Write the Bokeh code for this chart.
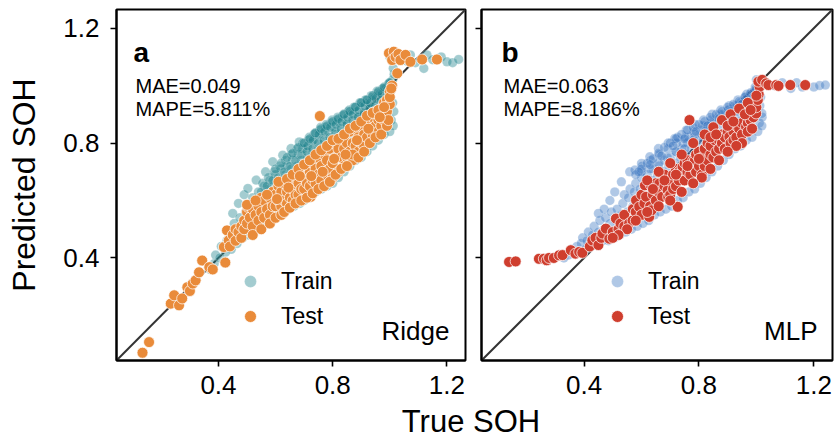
from bokeh.plotting import figure
from bokeh.layouts import row, column
from bokeh.models import FixedTicker, Slope, Label, Legend, LegendItem, Range1d
from bokeh.core.properties import value
from bokeh.embed import file_html
from bokeh.resources import INLINE

FONT = "Liberation Sans"

ticks = [0.4, 0.8, 1.2]
tick_labels = ["0.4", "0.8", "1.2"]
axis_lo, axis_hi = 0.043, 1.265
x_title = "True SOH"
y_title = "Predicted SOH"

ridge_train = [
(0.37,0.36),(0.385,0.38),(0.39,0.41),(0.405,0.40),(0.41,0.44),(0.425,0.42),(0.43,0.46),(0.435,0.49),
(0.445,0.43),(0.45,0.48),(0.455,0.52),(0.45,0.555),
(0.465,0.45),(0.47,0.50),(0.475,0.54),(0.47,0.59),
(0.485,0.47),(0.49,0.52),(0.495,0.56),(0.49,0.62),
(0.505,0.48),(0.51,0.54),(0.515,0.58),(0.52,0.61),(0.503,0.642),
(0.525,0.50),(0.53,0.56),(0.535,0.60),(0.54,0.63),(0.532,0.671),
(0.545,0.51),(0.55,0.57),(0.555,0.62),(0.56,0.65),
(0.565,0.53),(0.57,0.59),(0.575,0.64),(0.58,0.67),(0.565,0.70),
(0.585,0.54),(0.59,0.61),(0.595,0.66),(0.60,0.69),(0.59,0.735),
(0.605,0.55),(0.61,0.63),(0.615,0.67),(0.62,0.71),
(0.625,0.56),(0.63,0.64),(0.635,0.69),(0.64,0.72),(0.625,0.758),
(0.645,0.57),(0.65,0.66),(0.655,0.71),(0.66,0.74),(0.654,0.781),
(0.665,0.58),(0.67,0.68),(0.675,0.72),(0.68,0.76),
(0.685,0.59),(0.69,0.74),(0.695,0.78),(0.683,0.804),
(0.70,0.60),(0.705,0.70),(0.71,0.75),(0.705,0.78),(0.715,0.81),
(0.72,0.61),(0.725,0.72),(0.73,0.77),(0.725,0.80),(0.735,0.83),
(0.74,0.63),(0.745,0.73),(0.75,0.78),(0.745,0.81),(0.755,0.845),
(0.76,0.64),(0.765,0.75),(0.77,0.80),(0.765,0.83),(0.775,0.855),
(0.78,0.65),(0.785,0.76),(0.79,0.81),(0.785,0.84),(0.795,0.87),
(0.80,0.66),(0.805,0.78),(0.81,0.83),(0.805,0.855),(0.815,0.88),
(0.82,0.68),(0.825,0.80),(0.83,0.84),(0.825,0.87),(0.835,0.895),
(0.84,0.70),(0.845,0.81),(0.85,0.86),(0.845,0.88),(0.855,0.91),
(0.86,0.72),(0.865,0.83),(0.87,0.87),(0.865,0.90),(0.875,0.925),
(0.88,0.74),(0.885,0.85),(0.89,0.89),(0.885,0.91),(0.895,0.94),
(0.90,0.75),(0.905,0.87),(0.91,0.90),(0.905,0.93),(0.915,0.95),
(0.92,0.77),(0.925,0.88),(0.93,0.92),(0.925,0.94),(0.935,0.965),
(0.94,0.79),(0.945,0.90),(0.95,0.93),(0.945,0.955),(0.955,0.98),
(0.96,0.81),(0.965,0.92),(0.97,0.95),(0.965,0.97),(0.975,0.99),
(0.98,0.83),(0.985,0.94),(0.99,0.97),(0.985,0.99),(0.995,1.005),
(1.00,0.84),(1.005,0.88),(1.0,0.96),(1.005,0.99),(1.01,1.02),
(1.012,0.86),(1.014,0.91),(1.01,0.94),(1.015,1.04),(1.012,1.06),
(0.55,0.63),(0.555,0.66),(0.57,0.65),(0.575,0.68),(0.59,0.67),(0.595,0.70),(0.61,0.68),(0.615,0.72),
(0.63,0.70),(0.635,0.74),(0.65,0.72),(0.655,0.76),(0.67,0.74),(0.675,0.78),(0.69,0.76),(0.695,0.80),
(0.71,0.77),(0.712,0.79),(0.718,0.82),(0.73,0.78),(0.732,0.81),(0.738,0.835),(0.75,0.80),(0.752,0.83),
(0.758,0.855),(0.77,0.81),(0.772,0.84),(0.778,0.865),(0.79,0.82),(0.792,0.855),(0.798,0.88),
(0.81,0.84),(0.812,0.865),(0.818,0.89),(0.83,0.85),(0.832,0.875),(0.838,0.90),(0.85,0.865),
(0.852,0.89),(0.858,0.915),(0.87,0.88),(0.872,0.90),(0.878,0.925),(0.89,0.89),(0.892,0.915),
(0.898,0.94),(0.91,0.905),(0.912,0.93),(0.918,0.95),(0.93,0.92),(0.932,0.94),(0.938,0.96),
(0.95,0.93),(0.952,0.955),(0.958,0.975),(0.97,0.95),(0.972,0.97),(0.978,0.99),(0.99,0.96),
(0.992,0.985),(0.998,1.01),
(0.60,0.71),(0.62,0.73),(0.64,0.75),(0.66,0.765),(0.68,0.785),(0.70,0.80),(0.72,0.815),(0.74,0.835),
(0.76,0.85),(0.78,0.86),(0.80,0.875),(0.82,0.885),(0.84,0.90),(0.86,0.91),(0.88,0.925),(0.90,0.94),
(0.92,0.95),(0.94,0.965),(0.96,0.98),(0.98,0.995),(1.0,1.01),
(1.0,1.10),(1.03,1.09),(1.05,1.10),(1.06,1.085),(1.072,1.107),(1.09,1.08),(1.119,1.06),
(1.13,1.107),(1.15,1.09),(1.18,1.10),(1.20,1.083),(1.22,1.08),(1.241,1.091),
]

ridge_test = [
(0.134,0.07),(0.157,0.107),(0.233,0.241),(0.245,0.27),(0.262,0.235),(0.273,0.259),(0.291,0.298),
(0.30,0.285),(0.31,0.311),(0.32,0.322),(0.332,0.35),(0.343,0.391),(0.368,0.368),(0.38,0.36),
(0.419,0.438),(0.424,0.384),(0.43,0.496),(0.436,0.461),(0.44,0.44),(0.45,0.48),(0.46,0.46),
(0.46,0.50),(0.47,0.49),(0.48,0.51),(0.48,0.47),(0.49,0.53),(0.49,0.50),
(0.50,0.52),(0.50,0.56),(0.503,0.578),(0.51,0.54),(0.52,0.51),(0.52,0.57),(0.53,0.55),(0.54,0.53),
(0.54,0.58),(0.55,0.56),(0.55,0.61),(0.56,0.54),(0.56,0.60),(0.57,0.57),(0.58,0.55),(0.58,0.61),
(0.59,0.58),(0.59,0.63),
(0.60,0.58),(0.60,0.62),(0.61,0.60),(0.61,0.65),(0.62,0.58),(0.62,0.63),(0.63,0.60),(0.63,0.66),
(0.64,0.59),(0.64,0.63),(0.65,0.61),(0.65,0.67),(0.66,0.60),(0.66,0.64),(0.67,0.62),(0.67,0.68),
(0.68,0.62),(0.68,0.66),(0.69,0.64),(0.69,0.70),
(0.70,0.64),(0.70,0.68),(0.71,0.66),(0.71,0.72),(0.72,0.65),(0.72,0.70),(0.723,0.613),(0.73,0.67),
(0.73,0.73),(0.74,0.66),(0.74,0.71),(0.75,0.69),(0.75,0.75),(0.755,0.894),(0.76,0.67),(0.76,0.72),
(0.77,0.70),(0.77,0.76),(0.78,0.69),(0.78,0.74),(0.79,0.71),(0.79,0.78),
(0.80,0.68),(0.80,0.73),(0.80,0.80),(0.81,0.75),(0.82,0.70),(0.82,0.78),(0.83,0.75),(0.83,0.82),
(0.84,0.72),(0.84,0.78),(0.85,0.80),(0.85,0.75),(0.86,0.84),(0.86,0.77),(0.87,0.80),(0.87,0.74),
(0.88,0.85),(0.88,0.79),(0.89,0.82),(0.89,0.77),
(0.90,0.86),(0.90,0.80),(0.91,0.83),(0.91,0.79),(0.92,0.88),(0.92,0.82),(0.93,0.85),(0.94,0.89),
(0.94,0.83),(0.95,0.91),(0.95,0.86),(0.96,0.88),(0.96,0.84),(0.97,0.92),(0.97,0.86),(0.98,0.94),
(0.98,0.88),(0.99,0.95),(0.99,0.91),(1.0,0.98),(1.0,0.935),(1.008,1.0),(1.026,1.043),
(0.50,0.585),(0.52,0.48),(0.53,0.60),(0.55,0.50),(0.57,0.62),(0.58,0.52),(0.60,0.54),(0.61,0.665),
(0.62,0.55),(0.63,0.56),(0.64,0.675),(0.65,0.575),(0.66,0.69),(0.67,0.59),(0.68,0.71),(0.69,0.60),
(0.70,0.725),(0.71,0.61),(0.72,0.74),(0.73,0.625),(0.74,0.76),(0.75,0.64),(0.76,0.775),(0.77,0.65),
(0.78,0.79),(0.79,0.665),(0.80,0.81),(0.81,0.69),(0.82,0.815),(0.83,0.71),(0.84,0.83),(0.85,0.72),
(0.86,0.85),(0.87,0.76),(0.88,0.86),(0.89,0.75),(0.90,0.875),(0.91,0.77),(0.92,0.895),(0.93,0.80),
(0.94,0.905),(0.95,0.82),(0.96,0.915),(0.97,0.83),(0.98,0.925),(0.99,0.86),(1.0,0.96),(1.005,0.99),
(0.995,0.88),(0.605,0.605),(0.645,0.645),(0.685,0.685),(0.725,0.685),(0.765,0.70),(0.805,0.745),
(0.845,0.76),(0.885,0.81),(0.925,0.85),(0.965,0.89),
(0.997,1.113),(1.014,1.118),(1.008,1.089),(1.02,1.10),(1.03,1.11),(1.037,1.089),(1.055,1.107),
(1.072,1.083),(1.113,1.091),(1.165,1.091),
]

mlp_train = [
(0.33,0.40),(0.345,0.41),(0.355,0.43),(0.365,0.42),(0.375,0.44),(0.385,0.42),(0.39,0.45),(0.395,0.47),
(0.405,0.43),(0.41,0.46),(0.415,0.49),(0.425,0.44),(0.43,0.48),(0.435,0.51),
(0.445,0.45),(0.45,0.49),(0.455,0.53),(0.45,0.555),
(0.465,0.46),(0.47,0.50),(0.475,0.54),(0.47,0.57),
(0.485,0.46),(0.49,0.52),(0.495,0.56),(0.49,0.60),
(0.505,0.47),(0.51,0.53),(0.515,0.57),(0.507,0.63),
(0.525,0.48),(0.53,0.55),(0.535,0.59),(0.54,0.62),(0.53,0.665),
(0.545,0.49),(0.55,0.56),(0.555,0.61),(0.56,0.64),(0.559,0.70),
(0.565,0.50),(0.57,0.58),(0.575,0.63),(0.58,0.66),(0.577,0.706),
(0.585,0.51),(0.59,0.59),(0.595,0.64),(0.60,0.68),
(0.605,0.52),(0.61,0.61),(0.615,0.66),(0.62,0.69),(0.60,0.729),
(0.625,0.53),(0.63,0.62),(0.635,0.67),(0.64,0.71),(0.629,0.752),
(0.645,0.55),(0.65,0.64),(0.655,0.69),(0.66,0.72),
(0.665,0.56),(0.67,0.65),(0.675,0.70),(0.68,0.74),(0.659,0.781),
(0.685,0.57),(0.69,0.67),(0.695,0.72),(0.70,0.75),(0.693,0.80),
(0.705,0.58),(0.71,0.68),(0.715,0.73),(0.72,0.77),(0.716,0.816),
(0.725,0.60),(0.73,0.70),(0.735,0.75),(0.74,0.78),(0.745,0.80),
(0.745,0.61),(0.75,0.71),(0.755,0.76),(0.76,0.80),(0.765,0.82),
(0.765,0.63),(0.77,0.73),(0.775,0.78),(0.78,0.81),(0.785,0.83),
(0.785,0.64),(0.79,0.74),(0.795,0.79),(0.80,0.82),(0.805,0.845),
(0.805,0.66),(0.81,0.76),(0.815,0.81),(0.82,0.84),(0.825,0.86),
(0.825,0.68),(0.83,0.78),(0.835,0.82),(0.84,0.85),(0.845,0.87),
(0.845,0.70),(0.85,0.79),(0.855,0.84),(0.86,0.87),(0.865,0.885),
(0.865,0.72),(0.87,0.81),(0.875,0.85),(0.88,0.88),(0.885,0.90),
(0.885,0.74),(0.89,0.83),(0.895,0.87),(0.90,0.89),(0.905,0.915),
(0.905,0.76),(0.91,0.84),(0.915,0.88),(0.92,0.91),(0.925,0.93),
(0.925,0.78),(0.93,0.86),(0.935,0.90),(0.94,0.92),(0.945,0.94),
(0.945,0.79),(0.95,0.88),(0.955,0.91),(0.96,0.94),(0.962,0.96),
(0.965,0.81),(0.97,0.89),(0.975,0.93),(0.98,0.95),(0.98,0.97),
(0.985,0.82),(0.99,0.91),(0.995,0.95),(1.0,0.97),(0.995,0.985),
(1.005,0.84),(1.01,0.87),(1.012,0.93),(1.015,0.96),(1.01,0.99),
(1.019,0.86),(1.02,0.89),(1.019,0.903),
(0.60,0.70),(0.602,0.72),(0.63,0.71),(0.632,0.74),(0.66,0.73),(0.662,0.76),(0.69,0.75),(0.692,0.78),
(0.72,0.77),(0.722,0.80),(0.726,0.82),(0.75,0.78),(0.752,0.82),(0.756,0.845),(0.78,0.81),
(0.782,0.84),(0.786,0.865),(0.81,0.83),(0.812,0.86),(0.816,0.88),(0.84,0.86),(0.842,0.88),
(0.846,0.90),(0.87,0.88),(0.872,0.90),(0.876,0.915),(0.90,0.89),(0.902,0.915),(0.906,0.93),
(0.93,0.91),(0.932,0.93),(0.936,0.95),(0.96,0.93),(0.962,0.95),(0.966,0.97),(0.99,0.95),
(0.992,0.975),(0.996,0.995),
(0.58,0.69),(0.60,0.71),(0.62,0.73),(0.64,0.745),(0.66,0.765),(0.68,0.785),(0.70,0.80),(0.72,0.815),
(0.74,0.83),(0.76,0.845),(0.78,0.855),(0.80,0.865),(0.82,0.875),(0.84,0.89),(0.86,0.90),(0.88,0.91),
(0.90,0.925),(0.92,0.935),(0.94,0.945),(0.96,0.96),(0.98,0.975),(1.0,0.99),
(0.59,0.70),(0.63,0.725),(0.67,0.755),(0.71,0.79),(0.75,0.815),(0.79,0.84),(0.83,0.86),(0.87,0.885),
(0.91,0.91),(0.95,0.935),(0.99,0.96),
(1.0,1.02),(1.03,1.01),(1.06,1.0),(1.09,1.01),(1.12,0.99),(1.14,1.01),(1.16,0.995),
(1.2,0.995),(1.22,1.0),(1.24,1.002),
]

mlp_test = [
(0.139,0.386),(0.162,0.388),(0.243,0.397),(0.26,0.397),(0.27,0.392),(0.278,0.40),(0.295,0.40),
(0.313,0.409),(0.325,0.41),(0.354,0.427),(0.37,0.415),(0.383,0.421),(0.394,0.418),
(0.42,0.44),(0.429,0.461),(0.44,0.47),(0.45,0.445),(0.46,0.47),(0.464,0.485),(0.476,0.502),
(0.488,0.467),(0.50,0.49),(0.511,0.537),(0.52,0.50),(0.527,0.52),(0.54,0.51),(0.54,0.55),
(0.557,0.52),(0.569,0.53),(0.57,0.57),(0.58,0.56),(0.581,0.601),(0.592,0.578),
(0.60,0.55),(0.60,0.62),(0.61,0.59),(0.612,0.653),(0.616,0.613),(0.627,0.543),(0.63,0.58),
(0.633,0.653),(0.635,0.566),(0.64,0.62),(0.65,0.60),(0.65,0.66),(0.662,0.659),(0.66,0.63),
(0.672,0.613),(0.68,0.65),(0.68,0.69),(0.691,0.636),(0.693,0.612),
(0.70,0.67),(0.70,0.62),(0.71,0.69),(0.71,0.64),(0.72,0.65),(0.72,0.71),(0.726,0.578),(0.73,0.70),
(0.73,0.67),(0.743,0.717),(0.75,0.67),(0.75,0.73),(0.76,0.70),(0.76,0.74),(0.767,0.88),(0.77,0.69),
(0.77,0.72),(0.78,0.74),(0.786,0.74),(0.79,0.70),(0.79,0.76),
(0.80,0.72),(0.80,0.77),(0.81,0.69),(0.81,0.75),(0.82,0.78),(0.82,0.72),(0.83,0.74),(0.83,0.80),
(0.84,0.76),(0.84,0.79),(0.85,0.75),(0.856,0.81),(0.86,0.77),(0.87,0.81),(0.87,0.78),(0.88,0.80),
(0.88,0.83),(0.89,0.78),(0.89,0.82),
(0.90,0.84),(0.906,0.822),(0.91,0.80),(0.92,0.84),(0.92,0.81),(0.93,0.86),(0.93,0.82),(0.94,0.85),
(0.95,0.87),(0.95,0.83),(0.964,0.857),(0.97,0.87),(0.97,0.84),(0.98,0.88),(0.99,0.89),(0.999,0.903),
(1.0,0.925),(1.005,0.95),(1.008,0.97),(1.011,0.996),
(0.62,0.67),(0.66,0.70),(0.70,0.73),(0.74,0.76),(0.78,0.80),(0.82,0.83),(0.85,0.855),(0.88,0.88),
(0.91,0.90),(0.94,0.92),(0.97,0.94),(1.0,0.965),(0.64,0.64),(0.68,0.67),(0.72,0.69),(0.76,0.72),
(0.80,0.745),(0.84,0.82),(0.86,0.83),(0.90,0.86),(0.92,0.875),(0.96,0.90),(0.98,0.915),(0.985,0.85),
(0.95,0.80),(0.93,0.79),(0.90,0.77),(0.87,0.74),(0.84,0.71),(0.81,0.68),(0.78,0.66),(0.74,0.63),
(0.70,0.60),(0.66,0.58),(0.62,0.56),(0.58,0.53),(0.55,0.50),(0.52,0.48),(0.50,0.47),
(1.007,1.014),(1.02,1.02),(1.034,1.008),(1.042,1.002),(1.069,1.002),(1.077,0.999),(1.118,1.002),
(1.17,1.002),
]

panels = [
    dict(letter="a", mae="MAE=0.049", mape="MAPE=5.811%", model="Ridge",
         train=ridge_train, test=ridge_test, train_color="#1a7f89", test_color="#e98b3a"),
    dict(letter="b", mae="MAE=0.063", mape="MAPE=8.186%", model="MLP",
         train=mlp_train, test=mlp_test, train_color="#3975c0", test_color="#cf3e2e"),
]


def make_panel(cfg, first):
    p = figure(frame_width=349 if first else 351, frame_height=351,
               x_range=Range1d(axis_lo, axis_hi), y_range=Range1d(axis_lo, axis_hi),
               output_backend="svg", toolbar_location=None,
               min_border_left=116 if first else 8, min_border_right=8 if first else 2,
               min_border_top=9, min_border_bottom=79,
               background_fill_color="white", border_fill_color="white")
    p.grid.visible = False
    p.outline_line_color = "black"
    p.outline_line_width = 2
    p.outline_line_alpha = 1
    for ax in (p.xaxis[0], p.yaxis[0]):
        ax.ticker = FixedTicker(ticks=ticks)
        ax.major_label_overrides = {t: l for t, l in zip(ticks, tick_labels)}
        ax.axis_line_width = 2
        ax.axis_line_color = "black"
        ax.major_tick_line_width = 1.6
        ax.major_tick_line_color = "black"
        ax.major_tick_out = 6
        ax.major_tick_in = 0
        ax.minor_tick_out = 0
        ax.minor_tick_in = 0
        ax.major_label_text_font = FONT
        ax.major_label_text_font_size = "26px"
        ax.major_label_text_color = "black"
    p.xaxis.major_label_standoff = 9
    p.yaxis.major_label_standoff = 11
    if first:
        p.yaxis.axis_label = y_title
        p.yaxis.axis_label_text_font = FONT
        p.yaxis.axis_label_text_font_size = "32px"
        p.yaxis.axis_label_text_font_style = "normal"
        p.yaxis.axis_label_text_color = "black"
        p.yaxis.axis_label_standoff = 18
    else:
        p.yaxis.major_label_overrides = {t: "" for t in ticks}
        p.yaxis.major_label_standoff = 0

    p.add_layout(Slope(gradient=1, y_intercept=0, line_color="#333333",
                       line_width=2, level="underlay"))

    tx = [pt[0] for pt in cfg["train"]]
    ty = [pt[1] for pt in cfg["train"]]
    sx = [pt[0] for pt in cfg["test"]]
    sy = [pt[1] for pt in cfg["test"]]
    r_train = p.scatter(tx, ty, size=9.5, fill_color=cfg["train_color"], fill_alpha=0.4,
                        line_color="white", line_alpha=0.35, line_width=0.6)
    r_test = p.scatter(sx, sy, size=11, fill_color=cfg["test_color"], fill_alpha=1.0,
                       line_color="white", line_alpha=0.9, line_width=0.8)

    legend = Legend(items=[LegendItem(label="Train", renderers=[r_train]),
                           LegendItem(label="Test", renderers=[r_test])],
                    location=(119 if first else 121, 29),
                    glyph_width=30, glyph_height=30, label_height=30, label_standoff=16,
                    spacing=5, padding=0, margin=0,
                    border_line_color=None, background_fill_alpha=0,
                    label_text_font=FONT, label_text_font_size="23px",
                    label_text_color="black")
    p.add_layout(legend)

    lx = 17 if first else 20
    p.add_layout(Label(x=lx, y=308, x_units="screen", y_units="screen", text=cfg["letter"],
                       text_font=FONT, text_font_size="28px", text_font_style="bold",
                       text_color="black", text_baseline="alphabetic"))
    p.add_layout(Label(x=lx + 2, y=275, x_units="screen", y_units="screen", text=cfg["mae"],
                       text_font=FONT, text_font_size="20px", text_color="black",
                       text_baseline="alphabetic"))
    p.add_layout(Label(x=lx + 2, y=252, x_units="screen", y_units="screen", text=cfg["mape"],
                       text_font=FONT, text_font_size="20px", text_color="black",
                       text_baseline="alphabetic"))
    p.add_layout(Label(x=333 if first else 336, y=30, x_units="screen", y_units="screen",
                       text=cfg["model"], text_font=FONT, text_font_size="26px",
                       text_color="black", text_align="right", text_baseline="alphabetic"))
    return p


pa = make_panel(panels[0], True)
pb = make_panel(panels[1], False)

# x-axis title strip, laid over the bottom of the two panels (transparent canvas)
STRIP = 64
xl = figure(width=834, height=STRIP, x_range=Range1d(0, 834), y_range=Range1d(0, STRIP),
            output_backend="svg", toolbar_location=None, min_border=0,
            x_axis_type=None, y_axis_type=None, outline_line_color=None,
            background_fill_alpha=0, border_fill_alpha=0, margin=(-STRIP, 0, 0, 0))
xl.grid.visible = False
if xl.title is not None:
    xl.title.visible = False
xl.text(x=[470.5], y=[18], text=[x_title], text_align="center", text_baseline="middle",
        text_font=value(FONT), text_font_size=value("31px"), text_color="black")

layout = column(row(pa, pb, spacing=0), xl, spacing=0)

open("out.html", "w").write(file_html(layout, INLINE))
